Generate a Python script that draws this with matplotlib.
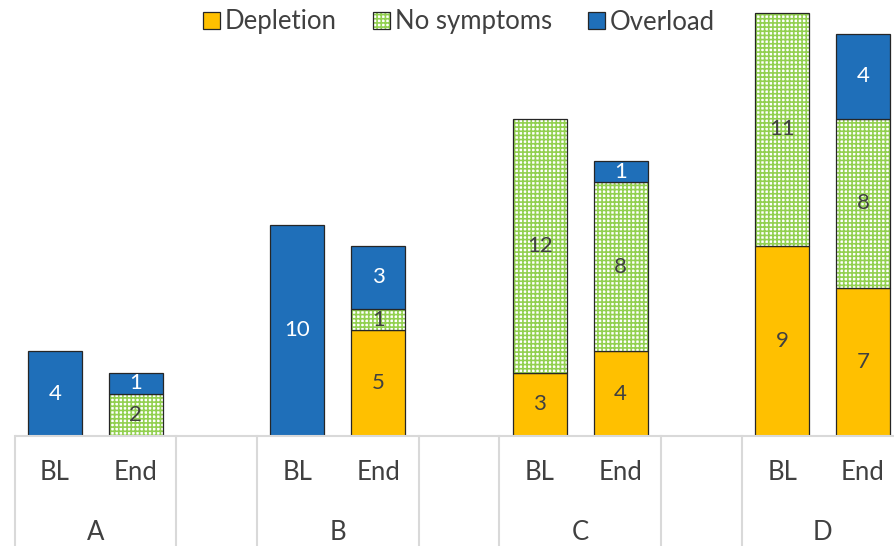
import matplotlib
matplotlib.use("Agg")
import matplotlib.pyplot as plt
import numpy as np
from matplotlib.patches import Patch
from matplotlib.legend_handler import HandlerTuple
from matplotlib.lines import Line2D

groups = ["A", "B", "C", "D"]
timepoints = ["BL", "End"]
series = ["Depletion", "No symptoms", "Overload"]
depletion = [0, 0, 0, 5, 3, 4, 9, 7]
no_symptoms = [0, 2, 0, 1, 12, 8, 11, 8]
overload = [4, 1, 10, 3, 0, 1, 0, 4]

YELLOW = "#FFC000"
GREEN = "#92D050"
BLUE = "#1F6FB9"
EDGE = "#262626"
SEP = "#D9D9D9"
TXT = "#404040"

plt.rcParams["font.family"] = ["Lato", "DejaVu Sans"]
plt.rcParams["hatch.linewidth"] = 1.2

W, H = 895, 546
fig = plt.figure(figsize=(W / 100, H / 100), dpi=100)
base_px = 436
slot = 80.8
left_px = 14.6
ax = fig.add_axes([left_px / W, (H - base_px) / H, 11 * slot / W, base_px / H])
ax.set_xlim(-0.5, 10.5)
px_per_unit = 21.15
ax.set_ylim(0, base_px / px_per_unit)
ax.axis("off")

pos = []
labels_tp = []
for gi, g in enumerate(groups):
    for ti, t in enumerate(timepoints):
        pos.append(gi * 3 + ti)
        labels_tp.append(t)
pos = np.array(pos)
bw = 0.67

dep = np.array(depletion, float)
nos = np.array(no_symptoms, float)
ovl = np.array(overload, float)

b1 = ax.bar(pos, dep, bw, color=YELLOW, edgecolor=EDGE, linewidth=0.9)
b2h = ax.bar(pos, nos, bw, bottom=dep, color="white", edgecolor=GREEN,
             hatch="++++", linewidth=0)
b2e = ax.bar(pos, nos, bw, bottom=dep, color="none", edgecolor=EDGE, linewidth=0.9)
b3 = ax.bar(pos, ovl, bw, bottom=dep + nos, color=BLUE, edgecolor=EDGE, linewidth=0.9)
for bars, vals in ((b1, dep), (b2h, nos), (b2e, nos), (b3, ovl)):
    for p, v in zip(bars.patches, vals):
        if v == 0:
            p.set_visible(False)

for vals, bottoms, col in ((dep, np.zeros_like(dep), TXT), (nos, dep, TXT), (ovl, dep + nos, "white")):
    for x, v, b in zip(pos, vals, bottoms):
        if v > 0:
            ax.text(x, b + v / 2, f"{int(v)}", ha="center", va="center",
                    fontsize=16, color=col)

# category axis
ax.plot([-0.5, 10.5], [0, 0], color=SEP, lw=1.5, clip_on=False, solid_capstyle="butt")
trans = ax.get_xaxis_transform()
yb = -(H - base_px) / base_px
for gi in range(len(groups)):
    for xx in (gi * 3 - 0.5, gi * 3 + 1.5):
        ax.add_line(Line2D([xx, xx], [0, yb], transform=trans, color=SEP, lw=1.5, clip_on=False))
for x, t in zip(pos, labels_tp):
    ax.text(x, -36 / base_px, t, transform=trans, ha="center", va="center",
            fontsize=18.5, color=TXT)
for gi, g in enumerate(groups):
    ax.text(gi * 3 + 0.5, -96 / base_px, g, transform=trans, ha="center", va="center",
            fontsize=18.5, color=TXT)

h1 = Patch(facecolor=YELLOW, edgecolor=EDGE, linewidth=0.9)
h2a = Patch(facecolor="white", edgecolor=GREEN, hatch="++++", linewidth=0)
h2b = Patch(facecolor="none", edgecolor=EDGE, linewidth=0.9)
h3 = Patch(facecolor=BLUE, edgecolor=EDGE, linewidth=0.9)
leg = fig.legend([h1, (h2a, h2b), h3], series, loc="center", bbox_to_anchor=(0.513, 1 - 22 / H),
                 ncol=3, frameon=False, fontsize=18.5, handlelength=0.65, handleheight=0.65,
                 handletextpad=0.2, columnspacing=1.4,
                 handler_map={tuple: HandlerTuple(ndivide=1, pad=0)})
for t in leg.get_texts():
    t.set_color(TXT)

fig.savefig("out.png", dpi=100)
